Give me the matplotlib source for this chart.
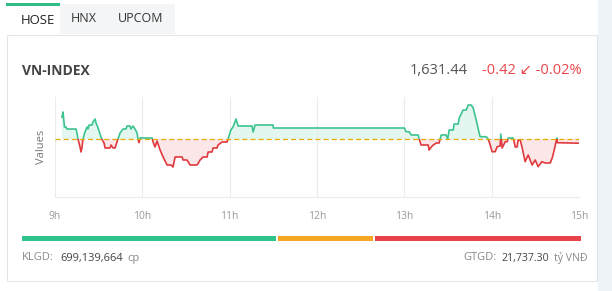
import numpy as np
import matplotlib; matplotlib.use("Agg")
import matplotlib.pyplot as plt
from matplotlib.patches import Rectangle

# --- data (minutes after 9:00, index points) ---
minutes = [4.8, 5.5, 6.2, 6.5, 7.6, 8.2, 14.4, 15.1, 15.8, 17.2, 17.9, 18.6, 19.2, 20.6, 22.0, 22.7,
           23.4, 25.4, 26.1, 27.5, 28.2, 29.6, 32.1, 33.7, 34.4, 37.8, 38.5, 39.9, 41.2, 42.4, 43.3,
           44.7, 46.7, 48.8, 49.5, 51.5, 52.2, 53.6, 55.0, 56.4, 57.0, 57.7, 58.4, 66.7, 67.4, 68.7,
           70.1, 72.2, 74.2, 77.0, 79.7, 81.1, 82.5, 87.3, 88.0, 90.7, 92.8, 94.2, 97.6, 99.7, 101.7,
           104.5, 105.2, 107.9, 108.6, 111.3, 112.0, 114.8, 118.2, 118.9, 120.8, 122.3, 124.4, 125.8,
           135.4, 136.1, 137.5, 149.8, 150.0,
           240.0, 241.2, 243.3, 244.7, 249.5, 250.2, 251.5, 256.4, 257.0, 259.1, 261.9, 263.9, 265.3,
           268.7, 269.8, 270.8, 273.6, 274.2, 277.0, 277.7, 280.4, 282.5, 283.9, 286.0, 287.3, 289.4,
           291.4, 292.1, 296.2, 297.6, 299.0, 300.3, 302.4, 303.8, 305.8, 306.3, 307.2, 309.3, 310.7,
           311.3, 314.8, 316.2, 317.5, 318.2, 319.6, 321.0, 323.0, 325.1, 327.8, 329.9, 332.0, 334.5,
           336.8, 340.2, 341.6, 343.0, 344.8, 345.0, 360.0]
index = [1634.06, 1634.56, 1633.56, 1633.06, 1633.06, 1632.86, 1632.86, 1632.46, 1631.86, 1631.06,
         1630.56, 1631.06, 1631.86, 1632.56, 1633.06, 1632.86, 1633.26, 1633.26, 1633.56, 1633.86,
         1633.46, 1632.96, 1631.86, 1631.46, 1630.96, 1630.96, 1631.26, 1630.96, 1630.96, 1631.46,
         1631.86, 1632.46, 1632.86, 1632.86, 1633.16, 1633.16, 1632.86, 1633.16, 1632.86, 1632.46,
         1631.86, 1631.49, 1631.96, 1631.96, 1631.56, 1631.06, 1631.66, 1630.76, 1630.09, 1629.26,
         1629.26, 1629.06, 1630.06, 1630.06, 1629.76, 1629.76, 1629.26, 1629.26, 1629.26, 1629.76,
         1630.06, 1630.06, 1630.56, 1630.56, 1630.96, 1630.96, 1631.26, 1631.56, 1631.56, 1631.86,
         1632.76, 1633.06, 1633.86, 1633.16, 1633.16, 1632.56, 1633.26, 1633.26, 1632.96,
         1632.96, 1632.59, 1632.59, 1632.26, 1632.26, 1631.86, 1631.26, 1631.26, 1630.76, 1631.16,
         1631.46, 1631.46, 1632.26, 1632.26, 1631.86, 1632.76, 1632.76, 1633.36, 1633.36, 1633.96,
         1634.76, 1634.76, 1635.26, 1635.26, 1634.96, 1633.76, 1632.46, 1632.09, 1632.09, 1631.86,
         1631.26, 1630.59, 1630.59, 1631.09, 1631.16, 1632.36, 1630.96, 1631.59, 1631.59, 1631.96,
         1631.96, 1631.06, 1631.06, 1631.76, 1631.76, 1630.96, 1629.59, 1630.26, 1629.26, 1629.76,
         1629.09, 1629.59, 1629.46, 1629.46, 1629.96, 1630.76, 1631.96, 1631.49, 1631.44]
ref_price = 1631.86
hour_ticks = [0, 60, 120, 180, 240, 300, 360]
hour_labels = ["9h", "10h", "11h", "12h", "13h", "14h", "15h"]
breadth = [180, 68, 146]  # tang / dung gia / giam
breadth_colors = ["#2ec48a", "#f5a623", "#e8434b"]

W, H = 612, 291
fig = plt.figure(figsize=(W / 100, H / 100), dpi=100)
fig.patch.set_facecolor("white")

def fx(x): return x / W
def fy(y): return 1 - y / H

bg = fig.add_axes([0, 0, 1, 1]); bg.set_xlim(0, W); bg.set_ylim(H, 0); bg.axis("off")
bg.add_patch(Rectangle((598, 0), 14, H, color="#eef3f7", lw=0))
bg.add_patch(Rectangle((60, 4), 115, 30, color="#f4f5f6", lw=0))
bg.add_patch(Rectangle((6, 3), 54, 3, color="#2ebd85", lw=0))
bg.add_patch(Rectangle((7, 35), 590, 246, facecolor="white", edgecolor="#e3e6e8", lw=0.8))

fam = ["Open Sans", "DejaVu Sans"]
fig.text(fx(38), fy(20), "HOSE", ha="center", va="center", fontsize=9.5, color="#222", family=fam)
fig.text(fx(84), fy(18), "HNX", ha="center", va="center", fontsize=9, color="#333", family=fam)
fig.text(fx(141), fy(18), "UPCOM", ha="center", va="center", fontsize=9, color="#333", family=fam)

fig.text(fx(22), fy(71), "VN-INDEX", ha="left", va="center", fontsize=10, fontweight="bold",
         color="#444", family=fam)
fig.text(fx(468), fy(71), "1,631.44", ha="right", va="center", fontsize=10.5, color="#555", family=fam)
fig.text(fx(582), fy(71), "-0.42 \u2199 -0.02%", ha="right", va="center", fontsize=10.5,
         color="#e8474a", family=fam)

ax = fig.add_axes([fx(55), fy(197), fx(579) - fx(55), fy(97) - fy(197)])
t = np.array(minutes); v = np.array(index)
ax.set_xlim(0, 360); ax.set_ylim(1626.06, 1636.06)
ax.fill_between(t, v, ref_price, where=v >= ref_price, interpolate=True, color="#2ebd85", alpha=0.13, lw=0)
ax.fill_between(t, v, ref_price, where=v <= ref_price, interpolate=True, color="#e8434b", alpha=0.13, lw=0)
up, = ax.plot(t, v, color="#3cc48f", lw=1.2)
dn, = ax.plot(t, v, color="#e0393e", lw=1.2)
up.set_clip_path(Rectangle((0, ref_price), 360, 20, transform=ax.transData))
dn.set_clip_path(Rectangle((0, ref_price - 20), 360, 20, transform=ax.transData))
ax.axhline(ref_price, color="#e5a800", lw=0.9, ls=(0, (4, 2.5)))
ax.set_xticks(hour_ticks); ax.set_xticklabels(hour_labels)
ax.tick_params(axis="x", length=0, pad=10, labelsize=7.5, labelcolor="#999")
ax.set_yticks([])
ax.grid(axis="x", color="#ececec", lw=0.8)
for s in ["top", "left", "right"]:
    ax.spines[s].set_visible(False)
ax.spines["bottom"].set_color("#ececec")
ax.set_ylabel("Values", fontsize=8, color="#777", labelpad=6, family=fam)
for lab in ax.get_xticklabels():
    lab.set_family(fam)

bar = fig.add_axes([fx(22), fy(241), fx(583) - fx(22), fy(236) - fy(241)])
bar.axis("off")
tot = sum(breadth); left = 0
for n, c in zip(breadth, breadth_colors):
    bar.barh(0, n / tot - 0.004, left=left, height=1, color=c)
    left += n / tot
bar.set_xlim(0, 1); bar.set_ylim(-0.5, 0.5)

fig.text(fx(22), fy(258), "KLGD:", ha="left", va="center", fontsize=8, color="#888", family=fam)
fig.text(fx(60), fy(258), "699,139,664", ha="left", va="center", fontsize=8, color="#444", family=fam)
fig.text(fx(127), fy(258), "cp", ha="left", va="center", fontsize=8, color="#888", family=fam)
fig.text(fx(497), fy(258), "GTGD:", ha="right", va="center", fontsize=8, color="#888", family=fam)
fig.text(fx(549), fy(258), "21,737.30", ha="right", va="center", fontsize=7.6, color="#444", family=fam)
fig.text(fx(588), fy(258), "tỷ VNĐ", ha="right", va="center", fontsize=7.6, color="#888", family=fam)

fig.savefig("out.png", dpi=100)
